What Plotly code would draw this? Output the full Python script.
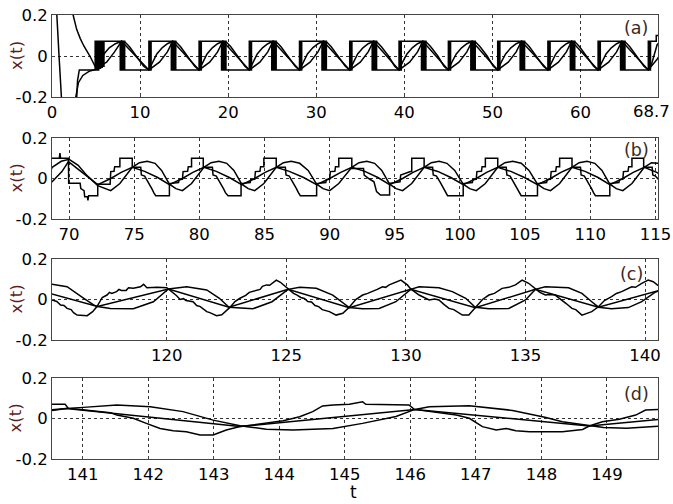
import plotly.graph_objects as go

# ---------------- data: [t, x(t)] pairs ----------------
# square / stepped / noisy signal
sq_a = [[0,-0.6],[2.75,-0.25],[2.9,-0.12],[3.1,-0.068],[4.9,-0.068],[4.9,0.072],[5.0,0.072],[5.0,-0.068],[5.1,-0.068],[5.1,0.072],
        [5.2,0.072],[5.2,-0.068],[5.3,-0.068],[5.3,0.072],[5.4,0.072],[5.4,-0.06],[5.5,-0.06],[5.5,0.072],[5.6,0.072],[5.6,-0.055],
        [5.7,-0.055],[5.7,0.072],[5.8,0.072],[5.8,-0.05],[5.9,-0.05],[5.9,0.072],[7.75,0.072],[7.75,-0.068],[7.9,-0.068],[7.9,0.072],
        [8.02,0.072],[8.02,-0.068],[8.15,-0.068],[8.15,0.072],[8.25,0.072],[8.25,-0.068],
        [11.0,-0.068],[11.0,0.072],[11.12,0.072],[11.12,-0.068],[11.25,-0.068],[11.25,0.072],[13.55,0.072],[13.55,-0.068],[13.7,-0.068],[13.7,0.072],[13.82,0.072],[13.82,-0.068],[13.95,-0.068],[13.95,0.072],[14.05,0.072],[14.05,-0.068],
        [16.7,-0.068],[16.7,0.072],[16.82,0.072],[16.82,-0.068],[16.95,-0.068],[16.95,0.072],[19.25,0.072],[19.25,-0.068],[19.4,-0.068],[19.4,0.072],[19.52,0.072],[19.52,-0.068],[19.65,-0.068],[19.65,0.072],[19.75,0.072],[19.75,-0.068],
        [22.4,-0.068],[22.4,0.072],[22.52,0.072],[22.52,-0.068],[22.65,-0.068],[22.65,0.072],[24.95,0.072],[24.95,-0.068],[25.1,-0.068],[25.1,0.072],[25.22,0.072],[25.22,-0.068],[25.35,-0.068],[25.35,0.072],[25.45,0.072],[25.45,-0.068],
        [28.1,-0.068],[28.1,0.072],[28.22,0.072],[28.22,-0.068],[28.35,-0.068],[28.35,0.072],[30.65,0.072],[30.65,-0.068],[30.8,-0.068],[30.8,0.072],[30.92,0.072],[30.92,-0.068],[31.05,-0.068],[31.05,0.072],[31.15,0.072],[31.15,-0.068],
        [33.8,-0.068],[33.8,0.072],[33.92,0.072],[33.92,-0.068],[34.05,-0.068],[34.05,0.072],[36.35,0.072],[36.35,-0.068],[36.5,-0.068],[36.5,0.072],[36.62,0.072],[36.62,-0.068],[36.75,-0.068],[36.75,0.072],[36.85,0.072],[36.85,-0.068],
        [39.4,-0.068],[39.4,0.072],[39.52,0.072],[39.52,-0.068],[39.65,-0.068],[39.65,0.072],[41.95,0.072],[41.95,-0.068],[42.1,-0.068],[42.1,0.072],[42.22,0.072],[42.22,-0.068],[42.35,-0.068],[42.35,0.072],[42.45,0.072],[42.45,-0.068],
        [45.0,-0.068],[45.0,0.072],[45.12,0.072],[45.12,-0.068],[45.25,-0.068],[45.25,0.072],[47.55,0.072],[47.55,-0.068],[47.7,-0.068],[47.7,0.072],[47.82,0.072],[47.82,-0.068],[47.95,-0.068],[47.95,0.072],[48.05,0.072],[48.05,-0.068],
        [50.6,-0.068],[50.6,0.072],[50.72,0.072],[50.72,-0.068],[50.85,-0.068],[50.85,0.072],[53.15,0.072],[53.15,-0.068],[53.3,-0.068],[53.3,0.072],[53.42,0.072],[53.42,-0.068],[53.55,-0.068],[53.55,0.072],[53.65,0.072],[53.65,-0.068],
        [56.3,-0.068],[56.3,0.072],[56.42,0.072],[56.42,-0.068],[56.55,-0.068],[56.55,0.072],[58.85,0.072],[58.85,-0.068],[59.0,-0.068],[59.0,0.072],[59.12,0.072],[59.12,-0.068],[59.25,-0.068],[59.25,0.072],[59.35,0.072],[59.35,-0.068],
        [62.0,-0.068],[62.0,0.072],[62.12,0.072],[62.12,-0.068],[62.25,-0.068],[62.25,0.072],[64.55,0.072],[64.55,-0.068],[64.7,-0.068],[64.7,0.072],[64.82,0.072],[64.82,-0.068],[64.95,-0.068],[64.95,0.072],[65.05,0.072],[65.05,-0.068],
        [67.7,-0.068],[67.7,0.072],[67.82,0.072],[67.82,-0.068],[67.95,-0.068],[67.95,0.072],[68.6,0.072]]
sq_b = [[68.6,0.1],[69.25,0.1],[69.3,0.125],[69.35,0.1],[69.95,0.1],[69.97,-0.024],[70.85,-0.024],[70.9,-0.05],[71.15,-0.06],[71.2,-0.09],
        [71.4,-0.09],[71.45,-0.108],[71.5,-0.085],[72.2,-0.085],[72.2,-0.028],[73.15,-0.028],[73.2,0.034],[73.45,0.036],[73.5,0.058],[73.9,0.058],[73.9,0.1],
        [74.85,0.1],[74.85,0.055],[75.5,0.055],[75.55,0.017],[75.8,0.012],[76.1,-0.02],[76.35,-0.05],[76.5,-0.07],[76.65,-0.085],[77.7,-0.085],[77.7,-0.025],[78.4,-0.02],[78.45,-0.005],[78.7,-0.004],[78.75,0.034],[79.1,0.036],[79.15,0.058],[79.4,0.058],[79.4,0.1],
        [80.3,0.1],[80.3,0.055],[81.0,0.055],[81.05,0.017],[81.3,0.012],[81.6,-0.02],[81.85,-0.05],[82.0,-0.07],[82.2,-0.085],[83.2,-0.085],[83.2,-0.025],[83.9,-0.02],[83.95,-0.005],[84.25,-0.004],[84.3,0.034],[84.65,0.036],[84.7,0.058],[84.95,0.058],[84.95,0.1],
        [85.9,0.1],[85.9,0.055],[86.6,0.055],[86.65,0.017],[86.9,0.012],[87.2,-0.02],[87.45,-0.05],[87.6,-0.07],[87.75,-0.085],[89.0,-0.085],[89.0,-0.025],[89.7,-0.02],[89.75,-0.005],[90.0,-0.004],[90.05,0.034],[90.4,0.036],[90.45,0.058],[90.7,0.058],[90.7,0.1],
        [91.7,0.1],[91.7,0.05],[92.6,0.05],[92.65,0.017],[93.0,0.0],[93.4,-0.016],[93.6,-0.065],[93.9,-0.082],[94.6,-0.082],[94.6,-0.024],[95.4,-0.016],[95.45,0.017],[96.2,0.034],[96.3,0.034],[96.3,0.1],
        [97.25,0.1],[97.25,0.055],[97.9,0.055],[97.95,0.017],[98.2,0.012],[98.5,-0.02],[98.75,-0.05],[98.9,-0.07],[99.05,-0.085],[100.25,-0.085],[100.25,-0.025],[100.95,-0.02],[101.0,-0.005],[101.25,-0.004],[101.3,0.034],[101.65,0.036],[101.7,0.058],[101.95,0.058],[101.95,0.1],
        [102.9,0.1],[102.9,0.055],[103.55,0.055],[103.6,0.017],[103.85,0.012],[104.15,-0.02],[104.4,-0.05],[104.55,-0.07],[104.7,-0.085],[105.95,-0.085],[105.95,-0.025],[106.65,-0.02],[106.7,-0.005],[106.95,-0.004],[107.0,0.034],[107.35,0.036],[107.4,0.058],[107.65,0.058],[107.65,0.1],
        [108.6,0.1],[108.6,0.055],[109.25,0.055],[109.3,0.017],[109.55,0.012],[109.85,-0.02],[110.1,-0.05],[110.25,-0.07],[110.4,-0.085],[111.5,-0.085],[111.5,-0.025],[112.2,-0.02],[112.25,-0.005],[112.5,-0.004],[112.55,0.034],[112.9,0.036],[112.95,0.058],[113.2,0.058],[113.2,0.1],
        [114.1,0.1],[114.1,0.055],[114.75,0.055],[114.8,0.017],[115.0,0.012]]
sq_cd = [[115.2,-0.002],[115.4,-0.01],[115.56,-0.027],[115.7,-0.03],[115.83,-0.044],[116.0,-0.05],[116.1,-0.065],[116.25,-0.077],[116.45,-0.08],[116.67,-0.08],
         [116.9,-0.06],[117.08,-0.035],[117.3,0.01],[117.5,0.022],[117.6,0.035],[117.7,0.03],[117.9,0.039],[118.0,0.05],[118.1,0.045],[118.3,0.045],[118.4,0.058],
         [118.6,0.055],[118.9,0.063],[119.03,0.075],[119.17,0.058],[119.6,0.06],[120.0,0.058],[120.07,0.052],[120.28,0.03],[120.4,0.02],[120.56,0.0],[120.7,0.004],
         [120.8,-0.005],[121.1,-0.011],[121.25,-0.03],[121.4,-0.035],[121.67,-0.06],[121.8,-0.065],[122.08,-0.08],[122.3,-0.075],[122.64,-0.039],[122.85,-0.01],
         [123.06,0.006],[123.3,0.02],[123.45,0.035],[123.6,0.039],[123.9,0.05],[124.0,0.065],[124.17,0.072],[124.3,0.07],[124.4,0.08],[124.58,0.096],[124.75,0.085],
         [125.07,0.052],[125.3,0.03],[125.45,0.022],[125.6,0.01],[125.75,0.005],[125.9,-0.01],[126.05,-0.012],[126.2,-0.03],[126.35,-0.035],[126.5,-0.05],[126.8,-0.06],
         [127.08,-0.077],[127.36,-0.068],[127.63,-0.038],[127.9,0.0],[128.19,0.022],[128.4,0.03],[128.6,0.039],[128.8,0.05],[129.02,0.063],[129.15,0.06],[129.3,0.072],
         [129.58,0.088],[129.79,0.096],[130.06,0.072],[130.2,0.052],[130.55,0.022],[130.75,0.01],[130.97,-0.002],[131.2,0.002],[131.38,-0.002],[131.6,-0.025],
         [131.8,-0.044],[132.0,-0.05],[132.36,-0.077],[132.63,-0.077],[132.91,-0.038],[133.2,0.0],[133.47,0.022],[133.7,0.03],[134.02,0.055],[134.3,0.06],
         [134.58,0.072],[134.86,0.096],[135.13,0.08],[135.41,0.052],[135.6,0.035],[135.83,0.022],[136.05,0.025],[136.24,0.022],[136.52,-0.002],[136.7,-0.02],
         [136.94,-0.044],[137.1,-0.05],[137.36,-0.077],[137.77,-0.06],[138.05,-0.036],[138.3,-0.005],[138.6,0.014],[138.8,0.03],[139.02,0.039],[139.2,0.05],
         [139.44,0.063],[139.6,0.06],[139.86,0.08],[140.13,0.096],[140.34,0.088],
         [140.53,0.07],[140.73,0.07],[140.78,0.05],[140.96,0.045],[141.11,0.039],[141.42,0.029],[141.52,0.017],[141.77,0.001],[141.97,-0.024],[142.18,-0.049],
         [142.38,-0.06],[142.58,-0.065],[142.79,-0.081],[142.99,-0.081],[143.19,-0.057],[143.4,-0.04],[143.6,-0.032],[143.8,-0.024],[144.06,-0.011],[144.31,0.009],
         [144.51,0.034],[144.66,0.062],[144.82,0.067],[145.07,0.07],[145.27,0.083],[145.32,0.07],[145.98,0.067],[146.06,0.045],[146.29,0.034],[146.7,0.017],
         [146.9,0.001],[147.1,-0.04],[147.31,-0.057],[147.46,-0.049],[147.61,-0.06],[147.82,-0.065],[148.32,-0.065],[148.63,-0.054],[148.73,-0.037],[148.93,-0.016],
         [149.19,-0.004],[149.44,0.017],[149.59,0.042],[149.74,0.045],[149.8,0.045]]

# triangular / linear signal
lin_a = [[0,0.6],[2.0,0.3],[2.4,0.2],[2.8,0.13],[3.2,0.086],[3.6,0.05],[4.3,0.0],[5.0,-0.06],[6.2,-0.03],[7.1,0.02],[7.9,0.072],
         [11.0,-0.068],[12.2,-0.03],[13.1,0.02],[13.7,0.072],[16.7,-0.068],[17.9,-0.03],[18.8,0.02],[19.4,0.072],[22.4,-0.068],[23.6,-0.03],[24.5,0.02],[25.1,0.072],
         [28.1,-0.068],[29.3,-0.03],[30.2,0.02],[30.8,0.072],[33.8,-0.068],[35.0,-0.03],[35.9,0.02],[36.5,0.072],[39.4,-0.068],[40.6,-0.03],[41.5,0.02],[42.1,0.072],
         [45.0,-0.068],[46.2,-0.03],[47.1,0.02],[47.7,0.072],[50.6,-0.068],[51.8,-0.03],[52.7,0.02],[53.3,0.072],[56.3,-0.068],[57.5,-0.03],[58.4,0.02],[59.0,0.072],
         [62.0,-0.068],[63.2,-0.03],[64.1,0.02],[64.7,0.072],[67.7,-0.068],[68.7,-0.016]]
lin_b = [[69.45,0.034],[69.95,0.083],[71.0,0.03],[72.2,-0.03],[73.2,0.0],[74.0,0.03],[74.85,0.055],[75.8,0.035],[76.8,0.005],[77.7,-0.03],[78.7,0.0],[79.5,0.03],
         [80.35,0.055],[81.3,0.035],[82.3,0.005],[83.25,-0.03],[84.25,0.0],[85.05,0.03],[85.9,0.055],[86.9,0.035],[88.0,0.005],[89.0,-0.03],[90.0,0.0],[90.85,0.03],
         [91.7,0.055],[92.7,0.035],[93.7,0.005],[94.6,-0.03],[95.6,0.0],[96.4,0.03],[97.25,0.055],[98.3,0.035],[99.3,0.005],[100.25,-0.03],[101.25,0.0],[102.05,0.03],
         [102.9,0.055],[103.9,0.035],[104.95,0.005],[105.95,-0.03],[106.95,0.0],[107.75,0.03],[108.6,0.055],[109.6,0.035],[110.6,0.005],[111.5,-0.03],[112.5,0.0],[113.3,0.03],
         [114.15,0.055],[115.1,0.03]]
lin_cd = [[117.1,-0.035],[120.07,0.052],[122.6,-0.038],[125.07,0.05],[127.63,-0.04],[130.2,0.05],[132.9,-0.04],[135.41,0.05],[138.05,-0.038],
          [140.75,0.05],[143.4,-0.04],[146.07,0.045],[148.73,-0.037],[149.8,-0.004]]

# rounded / lagging signal
rnd_a = [[0,0.5],[0.55,0.2],[0.8,0.0],[1.05,-0.2],[1.4,-0.45],[2.2,-0.4],[2.7,-0.2],[3.0,-0.13],[3.5,-0.095],[4.2,-0.075],[5.0,-0.065],
         [5.4,-0.03],[5.9,0.01],[6.5,0.04],[7.2,0.06],[7.9,0.072],[8.3,0.068],[8.8,0.045],[9.6,0.0],[10.4,-0.05],[11.0,-0.068],
         [11.4,-0.03],[11.9,0.01],[12.5,0.04],[13.1,0.06],[13.7,0.072],[14.1,0.068],[14.6,0.045],[15.4,0.0],[16.2,-0.05],[16.7,-0.068],
         [17.1,-0.03],[17.6,0.01],[18.2,0.04],[18.8,0.06],[19.4,0.072],[19.8,0.068],[20.3,0.045],[21.1,0.0],[21.9,-0.05],[22.4,-0.068],
         [22.8,-0.03],[23.3,0.01],[23.9,0.04],[24.5,0.06],[25.1,0.072],[25.5,0.068],[26.0,0.045],[26.8,0.0],[27.6,-0.05],[28.1,-0.068],
         [28.5,-0.03],[29.0,0.01],[29.6,0.04],[30.2,0.06],[30.8,0.072],[31.2,0.068],[31.7,0.045],[32.5,0.0],[33.3,-0.05],[33.8,-0.068],
         [34.2,-0.03],[34.7,0.01],[35.3,0.04],[35.9,0.06],[36.5,0.072],[36.9,0.068],[37.4,0.045],[38.2,0.0],[38.9,-0.05],[39.4,-0.068],
         [39.8,-0.03],[40.3,0.01],[40.9,0.04],[41.5,0.06],[42.1,0.072],[42.5,0.068],[43.0,0.045],[43.8,0.0],[44.5,-0.05],[45.0,-0.068],
         [45.4,-0.03],[45.9,0.01],[46.5,0.04],[47.1,0.06],[47.7,0.072],[48.1,0.068],[48.6,0.045],[49.4,0.0],[50.1,-0.05],[50.6,-0.068],
         [51.0,-0.03],[51.5,0.01],[52.1,0.04],[52.7,0.06],[53.3,0.072],[53.7,0.068],[54.2,0.045],[55.0,0.0],[55.8,-0.05],[56.3,-0.068],
         [56.7,-0.03],[57.2,0.01],[57.8,0.04],[58.4,0.06],[59.0,0.072],[59.4,0.068],[59.9,0.045],[60.7,0.0],[61.5,-0.05],[62.0,-0.068],
         [62.4,-0.03],[62.9,0.01],[63.5,0.04],[64.1,0.06],[64.7,0.072],[65.1,0.068],[65.6,0.045],[66.4,0.0],[67.2,-0.05],[67.7,-0.068],
         [68.1,-0.035],[68.7,0.055]]
rnd_b = [[69.4,0.085],[70.0,0.095],[70.7,0.065],[71.3,0.02],[72.2,-0.035],[73.2,-0.06],[73.9,-0.025],[74.85,0.055],[75.4,0.078],[76.0,0.085],[76.6,0.075],
         [77.1,0.04],[77.7,-0.028],[78.2,-0.05],[78.7,-0.06],[79.4,-0.025],[80.35,0.055],[80.9,0.078],[81.5,0.085],[82.1,0.075],[82.65,0.04],[83.25,-0.028],
         [83.75,-0.05],[84.25,-0.06],[84.95,-0.025],[85.9,0.055],[86.45,0.078],[87.05,0.085],[87.7,0.075],[88.35,0.04],[89.0,-0.028],[89.5,-0.05],[90.0,-0.06],
         [90.7,-0.025],[91.7,0.055],[92.25,0.078],[92.85,0.085],[93.45,0.075],[94.0,0.04],[94.6,-0.028],[95.1,-0.05],[95.6,-0.06],[96.3,-0.025],[97.25,0.055],
         [97.8,0.078],[98.4,0.085],[99.0,0.075],[99.6,0.04],[100.25,-0.028],[100.75,-0.05],[101.25,-0.06],[101.95,-0.025],[102.9,0.055],[103.45,0.078],[104.05,0.085],
         [104.7,0.075],[105.3,0.04],[105.95,-0.028],[106.45,-0.05],[106.95,-0.06],[107.65,-0.025],[108.6,0.055],[109.15,0.078],[109.75,0.085],[110.35,0.075],
         [110.9,0.04],[111.5,-0.028],[112.0,-0.05],[112.5,-0.06],[113.2,-0.025],[114.15,0.055],[114.7,0.078]]
rnd_cd = [[115.2,0.075],[115.83,0.063],[116.53,0.006],[116.94,-0.027],[117.1,-0.035],[117.64,-0.044],[118.6,-0.046],[119.44,-0.011],[120.07,0.052],
          [120.83,0.063],[121.67,0.047],[122.2,0.006],[122.6,-0.038],[123.6,-0.046],[124.4,-0.011],[125.07,0.05],[125.56,0.06],[126.25,0.055],[126.94,0.022],
          [127.63,-0.04],[128.19,-0.046],[128.88,-0.044],[129.58,-0.011],[130.2,0.05],[130.55,0.063],[131.38,0.058],[131.94,0.039],[132.5,0.006],[132.9,-0.038],
          [133.47,-0.046],[134.3,-0.044],[135.0,-0.002],[135.41,0.05],[135.83,0.063],[136.8,0.058],[137.36,0.03],[137.77,-0.011],[138.05,-0.038],[138.6,-0.046],
          [139.3,-0.04],[139.86,-0.011],[140.41,0.035],[140.53,0.04],[140.75,0.05],[141.01,0.055],[141.52,0.067],[142.03,0.058],[142.53,0.034],[142.99,-0.008],
          [143.4,-0.036],[143.6,-0.044],[143.8,-0.053],[144.21,-0.057],[144.82,-0.049],[145.27,-0.024],[145.78,0.01],[146.07,0.045],[146.29,0.058],[146.9,0.063],
          [147.56,0.04],[148.07,0.005],[148.32,-0.016],[148.73,-0.035],[148.95,-0.045],[149.3,-0.048],[149.8,-0.038]]

# axis windows and tick labels of the four panels
x_ranges = [[0, 68.8], [68.69, 115.2], [115.2, 140.54], [140.53, 149.78]]
x_ticks = [[0, 10, 20, 30, 40, 50, 60, 68.7],
           [70, 75, 80, 85, 90, 95, 100, 105, 110, 115],
           [120, 125, 130, 135, 140],
           [141, 142, 143, 144, 145, 146, 147, 148, 149]]
x_ticktext = [["0", "10", "20", "30", "40", "50", "60", ""],
              ["70", "75", "80", "85", "90", "95", "100", "105", "110", "115"],
              ["120", "125", "130", "135", "140"],
              ["141", "142", "143", "144", "145", "146", "147", "148", "149"]]
end_label = "68.7"   # last tick of panel (a), written right-aligned at the page edge
y_ticks = [-0.2, 0, 0.2]
y_ticktext = ["-0.2", "0", "0.2"]
panel_labels = ["(a)", "(b)", "(c)", "(d)"]

# ---------------- figure ----------------
series = [sq_a + sq_b + sq_cd, lin_a + lin_b + lin_cd, rnd_a + rnd_b + rnd_cd]
domains = [[0.8153, 1.0], [0.5405, 0.723], [0.268, 0.4505], [0.0, 0.1824]]
label_pos = [(0.9637, 0.9718), (0.9637, 0.6959), (0.957, 0.4167), (0.9653, 0.1464)]

FONT = "DejaVu Sans, Arial, sans-serif"
TICKFONT = dict(family=FONT, size=16.5, color="black")
fig = go.Figure()
layout = dict(width=673, height=504, margin=dict(l=52, r=15, t=15, b=45, autoexpand=False),
              paper_bgcolor="white", plot_bgcolor="white", showlegend=False,
              font=dict(family=FONT, size=16.5, color="black"))
annotations = []
for i in range(4):
    xa = "x" if i == 0 else "x%d" % (i + 1)
    ya = "y" if i == 0 else "y%d" % (i + 1)
    for s in series:
        fig.add_trace(go.Scatter(x=[p[0] for p in s], y=[p[1] for p in s], mode="lines",
                                 line=dict(color="black", width=1.5), xaxis=xa, yaxis=ya,
                                 hoverinfo="skip"))
    axkey = "xaxis" if i == 0 else "xaxis%d" % (i + 1)
    aykey = "yaxis" if i == 0 else "yaxis%d" % (i + 1)
    common = dict(showgrid=True, gridcolor="#333333", griddash="dot", gridwidth=1, zeroline=False,
                  showline=True, mirror=True, linecolor="#444444", linewidth=1,
                  ticks="inside", ticklen=3, tickcolor="#444444", tickfont=TICKFONT,
                  automargin=False, tickmode="array", ticklabeloverflow="allow")
    layout[axkey] = dict(domain=[0, 1], anchor=ya, range=x_ranges[i],
                         tickvals=x_ticks[i], ticktext=x_ticktext[i], **common)
    layout[aykey] = dict(domain=domains[i], anchor=xa, range=[-0.2, 0.2],
                         tickvals=y_ticks, ticktext=y_ticktext, **common)
    ymid = (domains[i][0] + domains[i][1]) / 2
    annotations.append(dict(text="x(t)", xref="paper", yref="paper", x=-0.0594, y=ymid,
                            textangle=-90, showarrow=False, xanchor="center", yanchor="middle",
                            font=dict(family=FONT, size=16.5, color="#5e1c1c")))
    annotations.append(dict(text=panel_labels[i], xref="paper", yref="paper",
                            x=label_pos[i][0], y=label_pos[i][1], showarrow=False,
                            xanchor="center", yanchor="middle",
                            font=dict(family=FONT, size=17.5, color="#3a2a22")))
annotations.append(dict(text=end_label, xref="paper", yref="paper", x=1.0231, y=0.7835,
                        showarrow=False, xanchor="right", yanchor="middle",
                        font=TICKFONT))
annotations.append(dict(text="t", xref="paper", yref="paper", x=0.497, y=-0.1005, showarrow=False,
                        xanchor="center", yanchor="bottom",
                        font=dict(family=FONT, size=17, color="black")))
layout["annotations"] = annotations
fig.update_layout(**layout)
fig.write_html("out.html", config={"displayModeBar": False, "staticPlot": True},
               post_script="document.body.style.margin='0px';")
